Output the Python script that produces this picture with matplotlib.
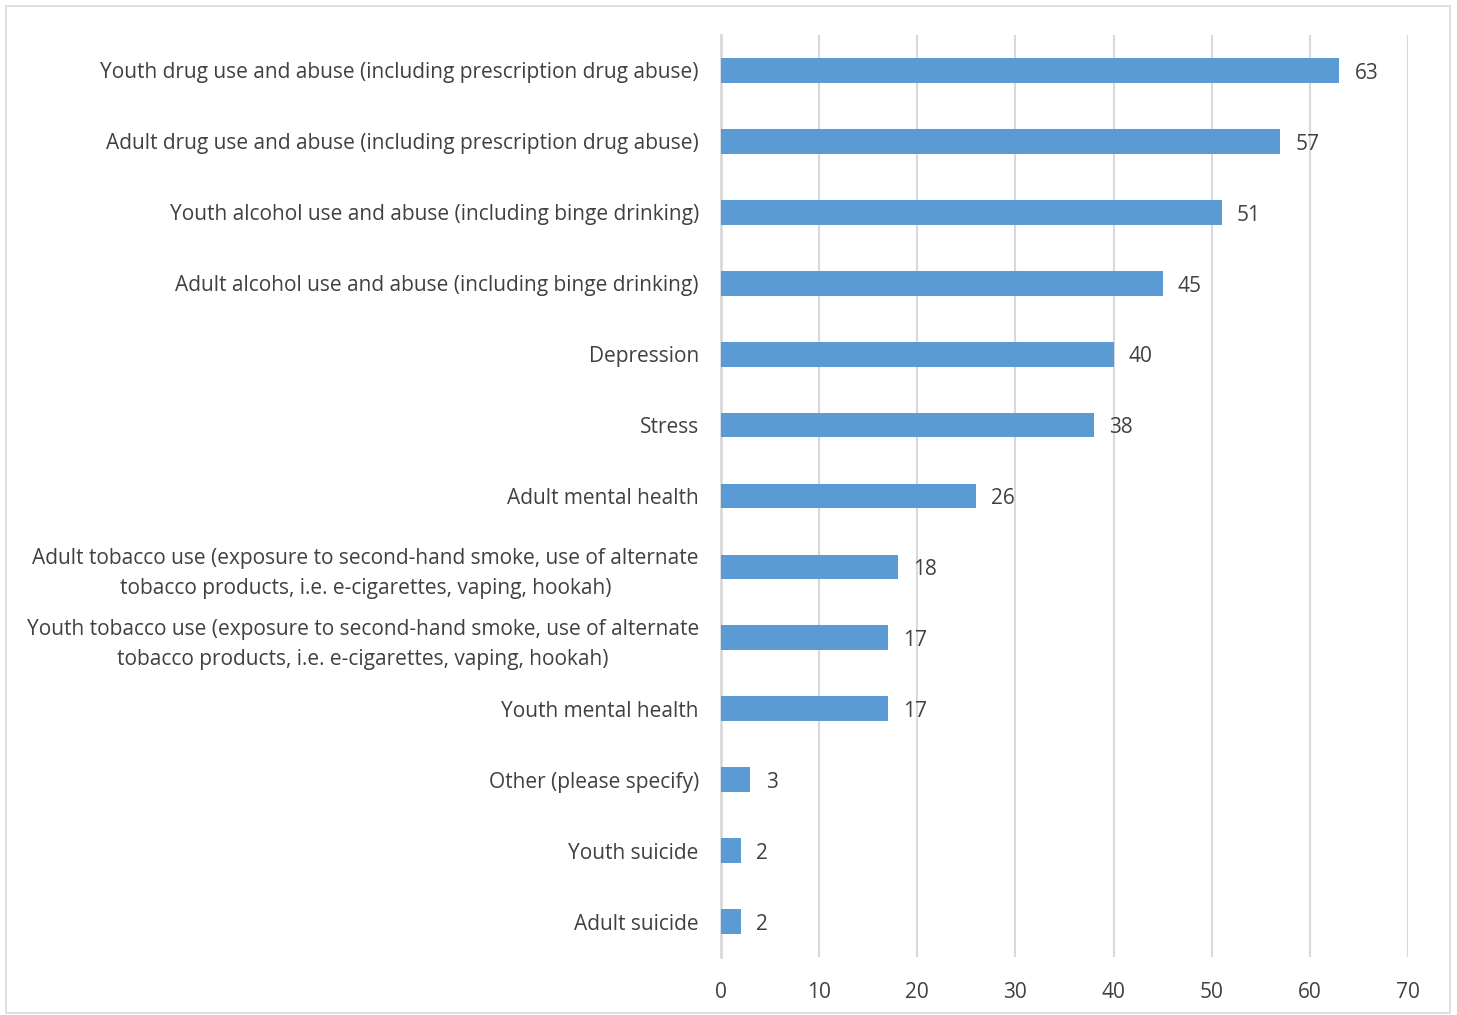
import matplotlib.pyplot as plt
from matplotlib.patches import Rectangle

categories = [
    "Youth drug use and abuse (including prescription drug abuse)",
    "Adult drug use and abuse (including prescription drug abuse)",
    "Youth alcohol use and abuse (including binge drinking)",
    "Adult alcohol use and abuse (including binge drinking)",
    "Depression",
    "Stress",
    "Adult mental health",
    "Adult tobacco use (exposure to second-hand smoke, use of alternate\ntobacco products, i.e. e-cigarettes, vaping, hookah)",
    "Youth tobacco use (exposure to second-hand smoke, use of alternate\ntobacco products, i.e. e-cigarettes, vaping, hookah)",
    "Youth mental health",
    "Other (please specify)",
    "Youth suicide",
    "Adult suicide",
]
values = [63, 57, 51, 45, 40, 38, 26, 18, 17, 17, 3, 2, 2]
xticks = [0, 10, 20, 30, 40, 50, 60, 70]

plt.rcParams['font.family'] = ['Open Sans', 'DejaVu Sans']
text_col = '#404040'
bar_col = '#5B9BD5'
grid_col = '#D9D9D9'

fig = plt.figure(figsize=(14.57, 10.15), dpi=100)
ax = fig.add_axes([721 / 1457, 1 - 957 / 1015, (1408 - 721) / 1457, (957 - 35) / 1015])

ypos = list(range(len(categories)))[::-1]
ax.barh(ypos, values, height=0.35, color=bar_col, zorder=3)
for y, v in zip(ypos, values):
    ax.annotate(str(v), (v, y), xytext=(11, -2), textcoords='offset points',
                ha='left', va='center', fontsize=15, color=text_col)

ax.set_xlim(0, 70)
ax.set_ylim(-0.5, len(categories) - 0.5)
ax.set_xticks(xticks)
ax.set_yticks(ypos)
ax.set_yticklabels(categories, multialignment='center', linespacing=1.55)
ax.tick_params(axis='both', length=0, labelsize=15, colors=text_col)
ax.tick_params(axis='y', pad=16)
ax.tick_params(axis='x', pad=18)
ax.xaxis.grid(True, color=grid_col, linewidth=1.5, zorder=0)
for s in ['top', 'right', 'bottom']:
    ax.spines[s].set_visible(False)
ax.spines['left'].set_color(grid_col)
ax.spines['left'].set_linewidth(2)

fig.patches.append(Rectangle((6 / 1457, 2 / 1015), 1444 / 1457, 1007 / 1015,
                             transform=fig.transFigure, fill=False,
                             edgecolor=grid_col, linewidth=1.2))

fig.savefig('out.png', dpi=100)
